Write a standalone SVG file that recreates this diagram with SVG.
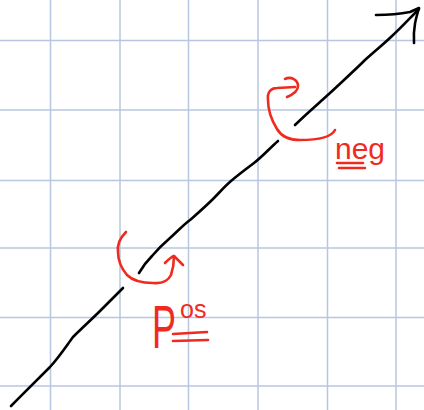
<svg xmlns="http://www.w3.org/2000/svg" width="424" height="410" viewBox="0 0 424 410">
<style>
.grid{stroke:#b6c7df;stroke-width:1.5;fill:none}
.ink{stroke:#000;stroke-width:2.6;fill:none;stroke-linecap:round;stroke-linejoin:round}
.red{stroke:#f02a1e;stroke-width:2.6;fill:none;stroke-linecap:round;stroke-linejoin:round}
.lbl{fill:#f02a1e;font-family:"Liberation Sans",Arial,sans-serif}
</style>
<rect width="424" height="410" fill="#fff"/>
<g id="grid" class="grid">
<path d="M50.5 0V410M120 0V410M188.5 0V410M258 0V410M327.5 0V410M396 0V410"/>
<path d="M0 40.5H424M0 110H424M0 180.5H424M0 248H424M0 317.5H424M0 386H424"/>
</g>
<g id="connectors">
<path class="ink" d="M11 406 C25 392 40 377 50 367 C60 356 67 345 73 337 C82 328 92 319 100 311 C110 301 117 294 123 288"/>
<path class="ink" d="M139 273 C143 266 147 261 152 256 C158 249 163 244 170 238 C177 232 182 226 190 220 C198 213 205 207 213 199 C220 192 224 187 231 181 C238 175 246 169 254 163 C262 157 270 148 278 141"/>
<path class="ink" d="M295 125 C305 115 318 104 330 93 C345 79 355 70 365 60 C375 51 386 42 392 36 C401 28 410 18 419 9"/>
<path class="ink" d="M376 15 C388 15 400 14 410 12 L419 8 C416 18 413 28 414 43"/>
</g>
<g id="neg-rotation">
<path class="red" d="M335 130 C332 136 320 140 300 140 C288 140 281 136 277 129 C272 121 268 110 268 100 C267 92 271 88 277 88 L295 87"/>
<path class="red" d="M285 79 C291 76 298 80 298 86 C298 91 294 94 287 97"/>
<text class="lbl" x="335" y="159" font-size="30">neg</text>
<path class="red" d="M337 163 L363 163 M339 168 L365 168"/>
</g>
<g id="pos-rotation">
<path class="red" d="M126 232 C120 238 117 245 118 252 C118 261 121 268 127 275 C133 281 143 283 153 283 C163 284 168 281 171 275 C173 269 174 263 174 256"/>
<path class="red" d="M165 263 C168 260 171 257 174 256 C177 259 180 262 183 265"/>
<text class="lbl" font-size="25"><tspan x="152" y="348" font-size="62" textLength="24" lengthAdjust="spacingAndGlyphs">P</tspan><tspan x="180" y="318">os</tspan></text>
<path class="red" d="M173 334 L207 332 M173 341 L208 340"/>
</g>
</svg>
